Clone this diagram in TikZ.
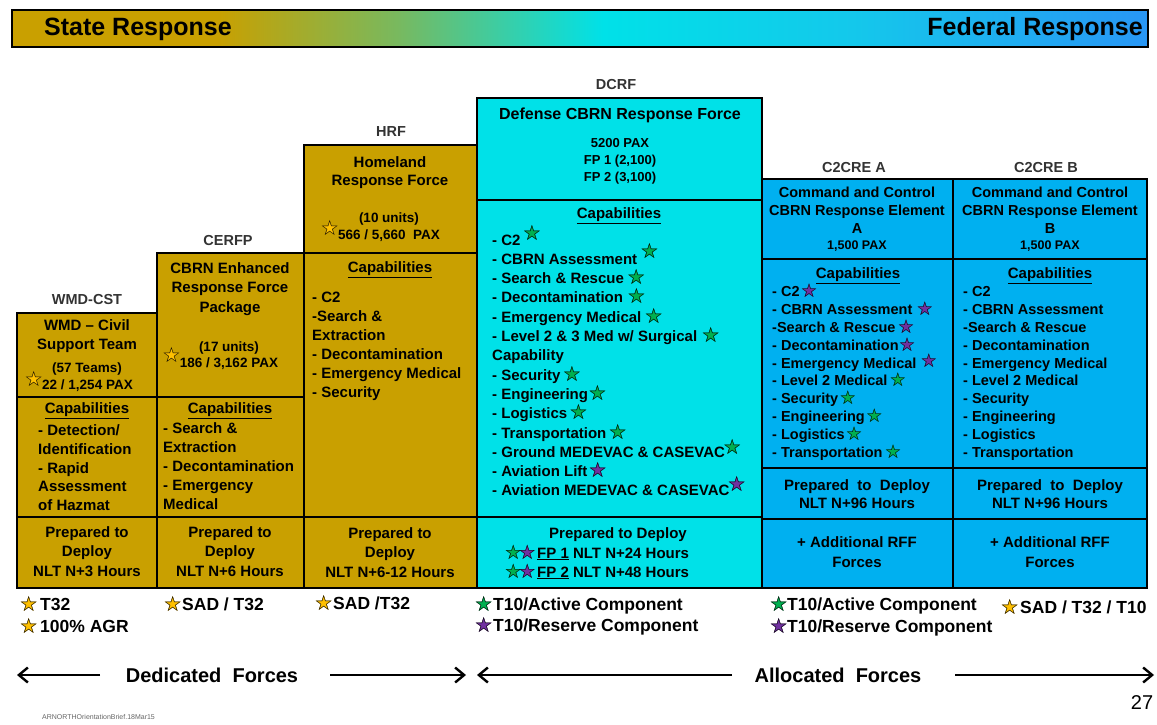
\documentclass[tikz,border=0pt]{standalone}
\usepackage{fontspec}
\setmainfont{Liberation Sans}
\newfontfamily\symf{DejaVu Sans}
\usetikzlibrary{arrows.meta}
\definecolor{gold}{RGB}{201,160,0}
\definecolor{dcyan}{RGB}{0,225,232}
\definecolor{cblue}{RGB}{0,176,240}
\definecolor{sgreen}{RGB}{0,176,80}
\definecolor{spurple}{RGB}{112,48,160}
\definecolor{syellow}{RGB}{255,192,0}
\definecolor{barg}{RGB}{120,185,95}
\definecolor{barb}{RGB}{20,200,235}
\definecolor{barc}{RGB}{40,150,245}
\pgfdeclarehorizontalshading{barshade}{100bp}{color(0bp)=(gold); color(25bp)=(gold); color(34bp)=(gold); color(42bp)=(barg); color(51bp)=(dcyan); color(62bp)=(barb); color(75bp)=(barc); color(100bp)=(barc)}
\newcommand\stc[2][21]{{\symf\fontsize{#1}{#1}\selectfont\rlap{\color{#2}★}☆}}
\newcommand\sgr[2][-1pt]{\hspace{#2}\smash{\raisebox{#1}{\stc{sgreen}}}}
\newcommand\spu[2][-1pt]{\hspace{#2}\smash{\raisebox{#1}{\stc{spurple}}}}
\newcommand\sgrA[2][-1pt]{\hspace{#2}\smash{\raisebox{#1}{\stc[19]{sgreen}}}}
\newcommand\spuA[2][-1pt]{\hspace{#2}\smash{\raisebox{#1}{\stc[19]{spurple}}}}
\newcommand\hollow[1]{\llap{\smash{\raisebox{#1}{\stc[21]{syellow}}}\hspace{-1pt}}}
\newcommand\legstar[2]{\llap{\smash{\raisebox{-1pt}{\stc[21]{#1}}}\hspace{#2}}}
\newcommand\mkcell[6]{\node[cellbox,fill=#6,minimum width={(#4-#2)*1pt},minimum height={(#5-#3)*1pt}] (#1) at (#2,#3) {};}
\begin{document}
\begin{tikzpicture}[x=1pt,y=-1pt,
  cellbox/.style={draw=black,line width=1.6pt,inner sep=0pt,outer sep=0pt,anchor=north west},
  lab/.style={font=\fontsize{14.5}{17}\selectfont\bfseries,text=black!80,inner sep=0pt},
  ttl/.style={font=\fontsize{15}{19.5}\selectfont\bfseries,align=center,inner sep=0pt,anchor=north},
  sml/.style={font=\fontsize{13.5}{16}\selectfont\bfseries,align=center,inner sep=0pt,anchor=north},
  lst/.style={font=\fontsize{15}{19}\selectfont\bfseries,align=left,inner sep=0pt,anchor=north west},
  ctl/.style={font=\fontsize{14.5}{18}\selectfont\bfseries,align=center,inner sep=0pt,anchor=north},
  clst/.style={font=\fontsize{14.5}{17.8}\selectfont\bfseries,align=left,inner sep=0pt,anchor=north west},
  leg/.style={font=\fontsize{17.5}{20}\selectfont\bfseries,inner sep=0pt,anchor=base west},
  big/.style={font=\fontsize{20}{22}\selectfont\bfseries,inner sep=0pt},
  farr/.style={line width=2.6pt,-{Straight Barb[length=9pt,width=15pt,line width=2.4pt]}}
]
\fill[white] (0,0) rectangle (1157,725);
\useasboundingbox (0,0) rectangle (1157,725);

% top bar
\node[draw=black,line width=2.5pt,shading=barshade,inner sep=0pt,outer sep=0pt,anchor=north west,minimum width=1136pt,minimum height=37pt] (bar) at (12,10) {};
\node[font=\fontsize{25}{25}\selectfont\bfseries,inner sep=0pt,anchor=west] (st) at (44,29) {State Response};
\node[font=\fontsize{25}{25}\selectfont\bfseries,inner sep=0pt,anchor=east] (fed) at (1143,29) {Federal Response};

% cells
\mkcell{wmdT}{17}{313}{157}{397}{gold}
\mkcell{wmdC}{17}{397}{157}{517}{gold}
\mkcell{wmdP}{17}{517}{157}{588}{gold}
\mkcell{cerT}{157}{253}{304}{397}{gold}
\mkcell{cerC}{157}{397}{304}{517}{gold}
\mkcell{cerP}{157}{517}{304}{588}{gold}
\mkcell{hrfT}{304}{145}{477}{253}{gold}
\mkcell{hrfC}{304}{253}{477}{517}{gold}
\mkcell{hrfP}{304}{517}{477}{588}{gold}
\mkcell{dcT}{477}{98}{762}{200}{dcyan}
\mkcell{dcC}{477}{200}{762}{517}{dcyan}
\mkcell{dcP}{477}{517}{762}{588}{dcyan}
\mkcell{aT}{762}{179}{953}{259}{cblue}
\mkcell{aC}{762}{259}{953}{468}{cblue}
\mkcell{aP}{762}{468}{953}{519}{cblue}
\mkcell{aA}{762}{519}{953}{588}{cblue}
\mkcell{bT}{953}{179}{1147}{259}{cblue}
\mkcell{bC}{953}{259}{1147}{468}{cblue}
\mkcell{bP}{953}{468}{1147}{519}{cblue}
\mkcell{bA}{953}{519}{1147}{588}{cblue}

% column labels
\node[lab] (wmdL) at (87,300) {WMD-CST};
\node[lab] (cerL) at (228,241) {CERFP};
\node[lab] (hrfL) at (391,132) {HRF};
\node[lab] (dcL) at (616,85) {DCRF};
\node[lab] (aL) at (854,168) {C2CRE A};
\node[lab] (bL) at (1046,168) {C2CRE B};

% WMD-CST
\node[ttl] (wmdN) at (87,{325-5.6}) {WMD \textendash{} Civil\\Support Team};
\node[sml] (wmdU) at (87,{368-5}) {(57 Teams)};
\node[sml] (wmdX) at (87.5,{385-5}) {\hollow{3pt}22 / 1,254 PAX};
\node[ttl] (wmdCap) at (87,{408-5.6}) {\underline{Capabilities}};
\node[lst,font=\fontsize{15}{18.8}\selectfont\bfseries] (wmdList) at (38,{430-5.6}) {- Detection/\\Identification\\- Rapid\\Assessment\\of Hazmat};
\node[ttl] (wmdPr) at (87,{532-5.6}) {Prepared to\\Deploy\\NLT N+3 Hours};

% CERFP
\node[ttl] (cerN) at (230,{268-5.6}) {CBRN Enhanced\\Response Force\\Package};
\node[sml] (cerU) at (229,{347-5}) {(17 units)};
\node[sml] (cerX) at (229,{363-5}) {\hollow{5pt}186 / 3,162 PAX};
\node[ttl] (cerCap) at (230,{408-5.6}) {\underline{Capabilities}};
\node[lst] (cerList) at (163,{428-5.6}) {- Search \&\\Extraction\\- Decontamination\\- Emergency\\Medical};
\node[ttl] (cerPr) at (230,{532-5.6}) {Prepared to\\Deploy\\NLT N+6 Hours};

% HRF
\node[ttl,font=\fontsize{15}{18.5}\selectfont\bfseries] (hrfN) at (390,{162-5.6}) {Homeland\\Response Force};
\node[sml] (hrfU) at (389,{218-5}) {(10 units)};
\node[sml] (hrfX) at (389,{235-5}) {\hollow{4pt}566 / 5,660\ \ PAX};
\node[ttl] (hrfCap) at (390,{267-5.6}) {\underline{Capabilities}};
\node[lst] (hrfList) at (312,{297-5.6}) {- C2\\-Search \&\\Extraction\\- Decontamination\\- Emergency Medical\\- Security};
\node[ttl] (hrfPr) at (390,{533-5.6}) {Prepared to\\Deploy\\NLT N+6-12 Hours};

% DCRF
\node[font=\fontsize{16}{16}\selectfont\bfseries,inner sep=0pt,anchor=north] (dcN) at (620,{114-6}) {Defense CBRN Response Force};
\node[font=\fontsize{13}{17}\selectfont\bfseries,align=center,inner sep=0pt,anchor=north] (dcPax) at (620,{143-4.8}) {5200 PAX\\FP 1 (2,100)\\FP 2 (3,100)};
\node[ttl] (dcCap) at (619,{213-5.6}) {\underline{Capabilities}};
\node[lst,font=\fontsize{15}{19.3}\selectfont\bfseries] (dcList) at (492,{240-5.6}) {- C2\sgr[5pt]{2pt}\\
- CBRN Assessment\sgr[6pt]{3pt}\\
- Search \& Rescue\sgr{3pt}\\
- Decontamination\sgr{4pt}\\
- Emergency Medical\sgr{3pt}\\
- Level 2 \& 3 Med w/ Surgical\sgr{4pt}\\
Capability\\
- Security\sgr{2pt}\\
- Engineering\sgr{0pt}\\
- Logistics\sgr{2pt}\\
- Transportation\sgr{2pt}\\
- Ground MEDEVAC \& CASEVAC\sgr[3pt]{-2pt}\\
- Aviation Lift\spu{1pt}\\
- Aviation MEDEVAC \& CASEVAC\spu[4pt]{-2pt}};
\node[ttl] (dcPr) at (618,{533-5.6}) {Prepared to Deploy};
\node[lst] (dcFP) at (537,{553-5.6}) {\llap{\smash{\raisebox{-1pt}{\stc[20]{sgreen}\hspace{-4pt}\stc[20]{spurple}}}\hspace{1pt}}\underline{FP 1} NLT N+24 Hours\\\llap{\smash{\raisebox{-1pt}{\stc[20]{sgreen}\hspace{-4pt}\stc[20]{spurple}}}\hspace{1pt}}\underline{FP 2} NLT N+48 Hours};

% C2CRE A
\node[ctl] (aN) at (857,{192-5.4}) {Command and Control\\CBRN Response Element\\A};
\node[font=\fontsize{12.5}{14}\selectfont\bfseries,inner sep=0pt,anchor=north] (aPax) at (857,{245-4.6}) {1,500 PAX};
\node[ttl] (aCap) at (858,{273-5.6}) {\underline{Capabilities}};
\node[clst] (aList) at (772,{292-5.4}) {- C2\spuA{1pt}\\
- CBRN Assessment\spuA{4pt}\\
-Search \& Rescue\spuA{2pt}\\
- Decontamination\spuA{0pt}\\
- Emergency Medical\spuA[1pt]{4pt}\\
- Level 2 Medical\sgrA{2pt}\\
- Security\sgrA{1pt}\\
- Engineering\sgrA{1pt}\\
- Logistics\sgrA{1pt}\\
- Transportation\sgrA{2pt}};
\node[ttl,font=\fontsize{15}{18}\selectfont\bfseries] (aPr) at (857,{485-5.5}) {Prepared\ \ to\ \ Deploy\\NLT N+96 Hours};
\node[ttl,font=\fontsize{15}{20}\selectfont\bfseries] (aAdd) at (857,{542-5.5}) {+ Additional RFF\\Forces};

% C2CRE B
\node[ctl] (bN) at (1050,{192-5.4}) {Command and Control\\CBRN Response Element\\B};
\node[font=\fontsize{12.5}{14}\selectfont\bfseries,inner sep=0pt,anchor=north] (bPax) at (1050,{245-4.6}) {1,500 PAX};
\node[ttl] (bCap) at (1050,{273-5.6}) {\underline{Capabilities}};
\node[clst] (bList) at (963,{292-5.4}) {- C2\\- CBRN Assessment\\-Search \& Rescue\\- Decontamination\\- Emergency Medical\\- Level 2 Medical\\- Security\\- Engineering\\- Logistics\\- Transportation};
\node[ttl,font=\fontsize{15}{18}\selectfont\bfseries] (bPr) at (1050,{485-5.5}) {Prepared\ \ to\ \ Deploy\\NLT N+96 Hours};
\node[ttl,font=\fontsize{15}{20}\selectfont\bfseries] (bAdd) at (1050,{542-5.5}) {+ Additional RFF\\Forces};

% legend
\node[leg] (lg1) at (40,{604+6.3}) {\legstar{syellow}{2pt}T32};
\node[leg] (lg2) at (40,{626+6.3}) {\legstar{syellow}{2pt}100\% AGR};
\node[leg] (lg3) at (182,{604+6.3}) {\legstar{syellow}{0pt}SAD / T32};
\node[leg] (lg4) at (333,{603+6.3}) {\legstar{syellow}{0pt}SAD /T32};
\node[leg] (lg5) at (493,{604+6.3}) {\legstar{sgreen}{0pt}T10/Active Component};
\node[leg] (lg6) at (493,{625+6.3}) {\legstar{spurple}{0pt}T10/Reserve Component};
\node[leg] (lg7) at (787,{604+6.3}) {\legstar{sgreen}{-1pt}T10/Active Component};
\node[leg] (lg8) at (787,{626+6.3}) {\legstar{spurple}{-1pt}T10/Reserve Component};
\node[leg] (lg9) at (1020,{607+6.3}) {\legstar{syellow}{1pt}SAD / T32 / T10};

% forces arrows
\node[big] (ded) at (212,675) {Dedicated\ \ Forces};
\node[big] (alc) at (838,675) {Allocated\ \ Forces};
\coordinate (d1) at (100,675);
\coordinate (d2) at (17,675);
\coordinate (d3) at (330,675);
\coordinate (d4) at (466,675);
\coordinate (e1) at (732,675);
\coordinate (e2) at (477,675);
\coordinate (e3) at (955,675);
\coordinate (e4) at (1154,675);
\draw[farr] (d1) -- (d2);
\draw[farr] (d3) -- (d4);
\draw[farr] (e1) -- (e2);
\draw[farr] (e3) -- (e4);

\node[font=\fontsize{20}{20}\selectfont,inner sep=0pt] (pg) at (1142,703) {27};
\node[font=\fontsize{7}{7}\selectfont,text=black!60,inner sep=0pt,anchor=west] (foot) at (42,717) {ARNORTHOrientationBrief.18Mar15};
\end{tikzpicture}
\end{document}
